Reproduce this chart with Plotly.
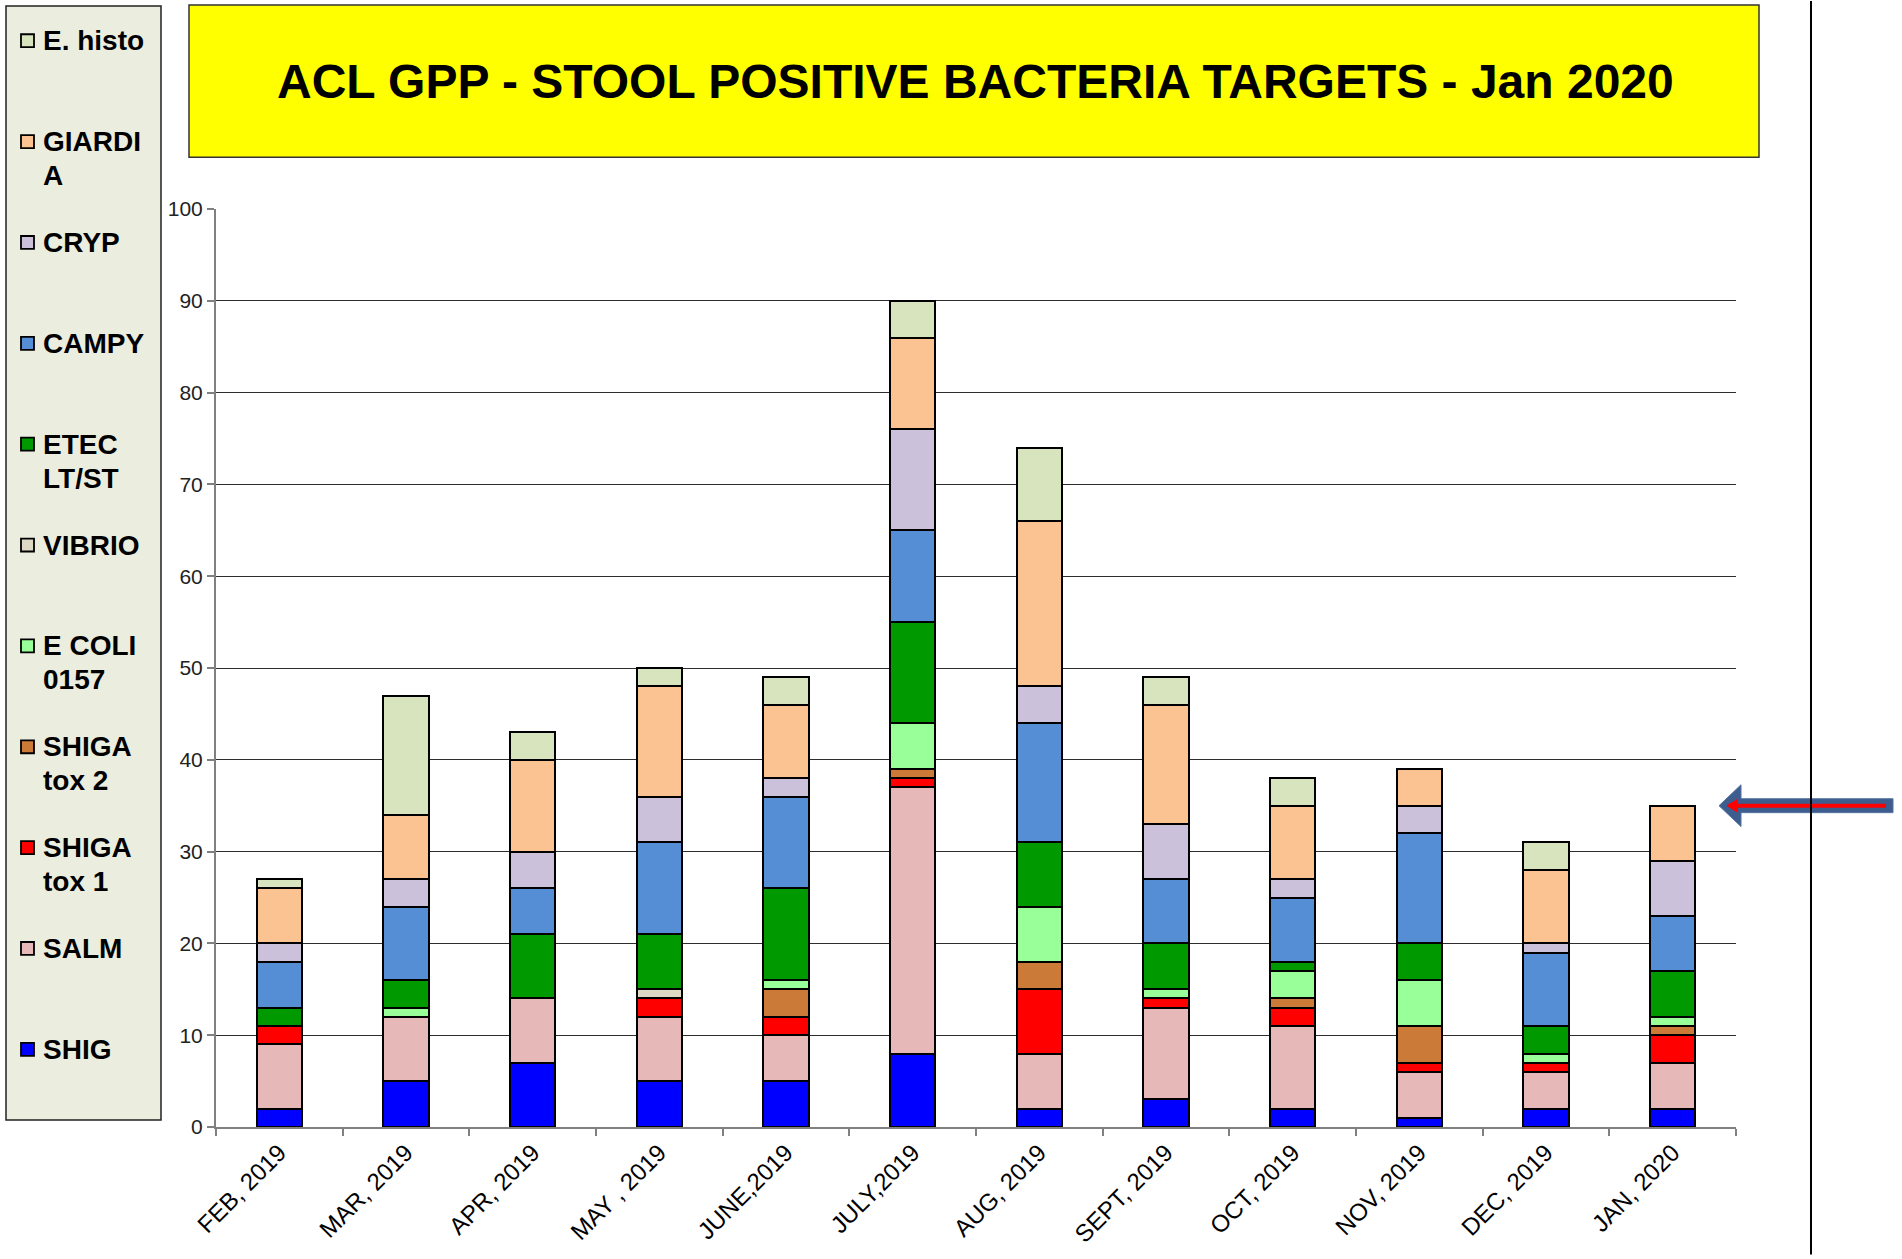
import plotly.graph_objects as go

# ---------------- data ----------------
months = ["FEB, 2019", "MAR, 2019", "APR, 2019", "MAY , 2019", "JUNE,2019", "JULY,2019",
          "AUG, 2019", "SEPT, 2019", "OCT, 2019", "NOV, 2019", "DEC, 2019", "JAN, 2020"]

# series, bottom of stack first
series_names = ["SHIG", "SALM", "SHIGA tox 1", "SHIGA tox 2", "E COLI 0157", "VIBRIO",
                "ETEC LT/ST", "CAMPY", "CRYP", "GIARDIA", "E. histo"]
legend_lines = [["SHIG"], ["SALM"], ["SHIGA", "tox 1"], ["SHIGA", "tox 2"], ["E COLI", "0157"],
                ["VIBRIO"], ["ETEC", "LT/ST"], ["CAMPY"], ["CRYP"], ["GIARDI", "A"], ["E. histo"]]
colors = ["#0000ff", "#e6b8b7", "#ff0000", "#cc7a38", "#99ff99", "#ddd9c4",
          "#009900", "#558ed5", "#ccc1da", "#fac391", "#d7e4bd"]

SHIG = [2, 5, 7, 5, 5, 8, 2, 3, 2, 1, 2, 2]
SALM = [7, 7, 7, 7, 5, 29, 6, 10, 9, 5, 4, 5]
SHIGA_TOX1 = [2, 0, 0, 2, 2, 1, 7, 1, 2, 1, 1, 3]
SHIGA_TOX2 = [0, 0, 0, 0, 3, 1, 3, 0, 1, 4, 0, 1]
ECOLI_0157 = [0, 1, 0, 0, 1, 5, 6, 1, 3, 5, 1, 1]
VIBRIO = [0, 0, 0, 1, 0, 0, 0, 0, 0, 0, 0, 0]
ETEC = [2, 3, 7, 6, 10, 11, 7, 5, 1, 4, 3, 5]
CAMPY = [5, 8, 5, 10, 10, 10, 13, 7, 7, 12, 8, 6]
CRYP = [2, 3, 4, 5, 2, 11, 4, 6, 2, 3, 1, 6]
GIARDIA = [6, 7, 10, 12, 8, 10, 18, 13, 8, 4, 8, 6]
E_HISTO = [1, 13, 3, 2, 3, 4, 8, 3, 3, 0, 3, 0]

series_values = [SHIG, SALM, SHIGA_TOX1, SHIGA_TOX2, ECOLI_0157, VIBRIO,
                 ETEC, CAMPY, CRYP, GIARDIA, E_HISTO]

title_text = "ACL GPP - STOOL POSITIVE BACTERIA TARGETS - Jan 2020"
y_ticks = list(range(0, 101, 10))
arrow_target = sum(v[-1] for v in series_values)   # latest month total

# ---------------- layout geometry (pixels) ----------------
W, H = 1902, 1259
L, R, T, B = 216, 1736, 209, 1131
PW, PH = R - L, B - T


def px(p):
    return (p - L) / PW


def py(p):
    return (B - p) / PH


FONT = "Liberation Sans, Arial, sans-serif"

fig = go.Figure()
for name, vals, col in zip(series_names, series_values, colors):
    fig.add_trace(go.Bar(
        x=months, y=[v if v else None for v in vals], name=name,
        marker=dict(color=col, line=dict(color="black", width=2)),
        showlegend=False,
    ))

shapes = []
annotations = []

# title box
shapes.append(dict(type="rect", xref="paper", yref="paper",
                   x0=px(189), x1=px(1759), y0=py(157), y1=py(4),
                   fillcolor="#ffff00", line=dict(color="#333333", width=1.5), layer="below"))
annotations.append(dict(xref="paper", yref="paper", x=px(975), y=py(81),
                        text="<b>" + title_text + "</b>", showarrow=False,
                        xanchor="center", yanchor="middle",
                        font=dict(family=FONT, size=48, color="black")))

# legend box
shapes.append(dict(type="rect", xref="paper", yref="paper",
                   x0=px(6), x1=px(161), y0=py(1124), y1=py(5),
                   fillcolor="#ebeddf", line=dict(color="#222222", width=1.5), layer="below"))
order = list(range(len(series_names)))[::-1]
for k, i in enumerate(order):
    yc = 40 + 101.3 * k
    shapes.append(dict(type="rect", xref="paper", yref="paper",
                       x0=px(21), x1=px(34), y0=py(yc + 6.5), y1=py(yc - 6.5),
                       fillcolor=colors[i], line=dict(color="black", width=1.8)))
    for j, line in enumerate(legend_lines[i]):
        annotations.append(dict(xref="paper", yref="paper", x=px(41), y=py(yc + 34 * j),
                                text="<b>" + line + "</b>", showarrow=False,
                                xanchor="left", yanchor="middle",
                                font=dict(family=FONT, size=28, color="black")))

# arrow pointing at latest total
ya = B - arrow_target / 100 * PH
arrow_path = (f"M {px(1719)},{py(ya)} L {px(1741)},{py(ya - 21)} L {px(1741)},{py(ya - 7)} "
              f"L {px(1893)},{py(ya - 7)} L {px(1893)},{py(ya + 7)} L {px(1741)},{py(ya + 7)} "
              f"L {px(1741)},{py(ya + 21)} Z")
shapes.append(dict(type="path", xref="paper", yref="paper", path=arrow_path,
                   fillcolor="#3d5d8e", line=dict(color="#5573a0", width=1)))
shapes.append(dict(type="line", xref="paper", yref="paper",
                   x0=px(1734), x1=px(1886), y0=py(ya), y1=py(ya),
                   line=dict(color="#ff0000", width=4)))
red_tip = (f"M {px(1727)},{py(ya)} L {px(1737)},{py(ya - 6)} L {px(1737)},{py(ya + 6)} Z")
shapes.append(dict(type="path", xref="paper", yref="paper", path=red_tip,
                   fillcolor="#ff0000", line=dict(color="#ff0000", width=1)))

# vertical separator line on the right
shapes.append(dict(type="line", xref="paper", yref="paper",
                   x0=px(1811), x1=px(1811), y0=py(0), y1=py(H),
                   line=dict(color="black", width=2)))

fig.update_layout(
    width=W, height=H,
    margin=dict(l=L, r=W - R, t=T, b=H - B, pad=0),
    barmode="stack", bargap=0.64,
    plot_bgcolor="white", paper_bgcolor="white",
    shapes=shapes, annotations=annotations,
    font=dict(family=FONT, color="black"),
    xaxis=dict(showgrid=False, showline=True, linecolor="#808080", linewidth=2,
               ticks="outside", ticklen=7, tickcolor="#808080", tickwidth=1.5,
               tickson="boundaries", tickangle=-45,
               tickfont=dict(family=FONT, size=24, color="black")),
    yaxis=dict(range=[0, 100], tickvals=y_ticks, showgrid=True,
               gridcolor="#2e2e2e", gridwidth=1.3, zeroline=False,
               showline=True, linecolor="#808080", linewidth=2,
               ticks="outside", ticklen=7, tickcolor="#808080", tickwidth=1.5,
               tickfont=dict(family=FONT, size=21, color="#222222")),
)

fig.write_html("out.html", config={"displayModeBar": False},
               post_script="document.body.style.margin='0px';")
